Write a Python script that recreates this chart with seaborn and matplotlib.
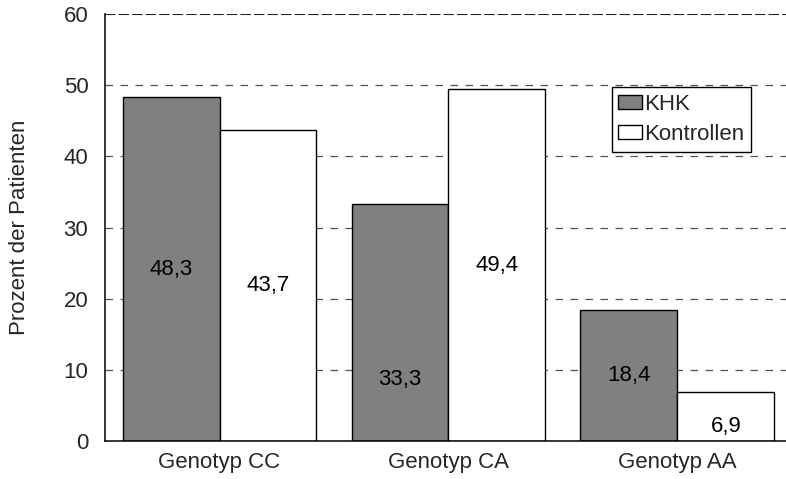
import matplotlib
matplotlib.use("Agg")
import matplotlib.pyplot as plt
import seaborn as sns
import pandas as pd
from matplotlib.patches import Patch

categories = ["Genotyp CC", "Genotyp CA", "Genotyp AA"]
groups = ["KHK", "Kontrollen"]
khk = [48.3, 33.3, 18.4]
kontrollen = [43.7, 49.4, 6.9]
yticks = [0, 10, 20, 30, 40, 50, 60]

df = pd.DataFrame({
    "Genotyp": categories * 2,
    "Gruppe": [groups[0]] * 3 + [groups[1]] * 3,
    "Prozent": khk + kontrollen,
})

sns.set_theme(style="white")
plt.rcParams["font.family"] = ["Liberation Sans", "DejaVu Sans"]
FS = 16

fig = plt.figure(figsize=(7.86, 4.79), dpi=100)
ax = fig.add_axes([0.1336, 0.0793, 0.8664, 0.8915])

palette = {"KHK": "#808080", "Kontrollen": "#ffffff"}
sns.barplot(data=df, x="Genotyp", y="Prozent", hue="Gruppe", order=categories,
            hue_order=groups, palette=palette, width=0.847, edgecolor="black",
            linewidth=1.0, saturation=1, ax=ax, legend=False, zorder=2)

ax.set_ylim(0, 60)
ax.set_xlim(-0.5, 2.474)
ax.set_yticks(yticks)
ax.set_yticklabels([str(t) for t in yticks], fontsize=FS)
ax.tick_params(axis="x", labelsize=FS, length=0, pad=8)
ax.tick_params(axis="y", length=0, pad=12)
ax.set_xlabel("")
ax.set_ylabel("Prozent der Patienten", fontsize=FS, labelpad=24)

# dashed horizontal gridlines behind the bars; the top one is heavier
for t in yticks[1:]:
    if t == 60:
        ax.axhline(t, color="#222222", linestyle=(0, (5, 1.5)), linewidth=1.5, zorder=0)
    else:
        ax.axhline(t, color="#555555", linestyle=(0, (6, 6)), linewidth=0.9, zorder=0)

for s in ["top", "right"]:
    ax.spines[s].set_visible(False)
for s in ["left", "bottom"]:
    ax.spines[s].set_color("black")
    ax.spines[s].set_linewidth(1.1)

# value labels inside the bars
label_frac = [[0.5, 0.26, 0.5], [0.5, 0.5, 0.3]]
for gi, container in enumerate(ax.containers):
    vals = khk if gi == 0 else kontrollen
    for i, (bar, v) in enumerate(zip(container, vals)):
        x = bar.get_x() + bar.get_width() / 2
        ax.text(x, v * label_frac[gi][i], f"{v:.1f}".replace(".", ","),
                ha="center", va="center", fontsize=FS, color="black", zorder=3)

handles = [Patch(facecolor=palette[g], edgecolor="black", linewidth=1.0) for g in groups]
leg = ax.legend(handles, groups, loc="upper left", bbox_to_anchor=(0.744, 0.829),
                fontsize=FS, frameon=True, fancybox=False, framealpha=1,
                edgecolor="black", handlelength=1.05, handleheight=0.6,
                handletextpad=0.1, borderpad=0.3, labelspacing=0.42,
                borderaxespad=0)
leg.get_frame().set_linewidth(1.0)

fig.savefig("out.png", dpi=100)
